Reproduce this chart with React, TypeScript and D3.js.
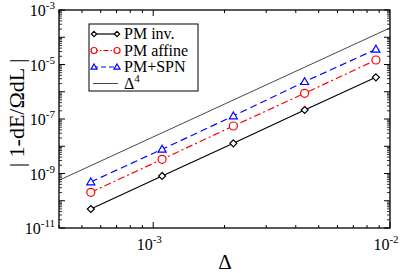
import React from "react";
import * as d3 from "d3";

const deltas = [5.45e-4, 1.09e-3, 2.18e-3, 4.36e-3, 8.72e-3];
const pmInv = [4.98e-11, 8.09e-10, 1.28e-8, 2.14e-7, 3.39e-6];
const pmAffine = [2.04e-10, 3.32e-9, 5.53e-8, 8.77e-7, 1.46e-5];
const pmSpn = [4.88e-10, 7.73e-9, 1.29e-7, 2.34e-6, 3.61e-5];
const refCoef = 2.2e4;
const refX = [4.0e-4, 1.0e-2];
const xTickExps = [-3, -2];
const yTickExps = [-3, -5, -7, -9, -11];
const legendLabels = ["PM inv.", "PM affine", "PM+SPN"];

const W = 405, H = 273;
const L = 59, R = 390, T = 10, B = 228;
const font = "'Liberation Serif', 'DejaVu Serif', serif";

export default function App() {
  const x = d3.scaleLog().domain([4.0e-4, 1e-2]).range([L, R]);
  const y = d3.scaleLog().domain([1e-11, 1e-3]).range([B, T]);
  const line = d3.line<[number, number]>().x(d => x(d[0])).y(d => y(d[1]));

  const xMinor: number[] = [];
  for (let e = -4; e <= -3; e++) for (let m = 1; m <= 9; m++) {
    const v = m * Math.pow(10, e);
    if (v >= 4e-4 - 1e-12 && v <= 1e-2 + 1e-12) xMinor.push(v);
  }
  const yMinor: number[] = [];
  for (let e = -11; e < -3; e++) for (let m = 2; m <= 9; m++) yMinor.push(m * Math.pow(10, e));
  const yMajor: number[] = [];
  for (let e = -11; e <= -3; e++) yMajor.push(Math.pow(10, e));

  const series = [
    { vals: pmInv, color: "#000", dash: "none", marker: "diamond" },
    { vals: pmAffine, color: "#ff0000", dash: "7,3,2,3", marker: "circle" },
    { vals: pmSpn, color: "#0000ff", dash: "7,4", marker: "triangle" },
  ];

  const drawMarker = (m: string, cx: number, cy: number, color: string, key: string, sc = 1) => {
    if (m === "diamond") {
      const s = 3.5 * sc;
      return <path key={key} d={`M${cx},${cy - s}L${cx + s},${cy}L${cx},${cy + s}L${cx - s},${cy}Z`} fill="white" stroke={color} strokeWidth={1.2} />;
    }
    if (m === "circle") {
      return <circle key={key} cx={cx} cy={cy} r={4 * sc} fill="white" stroke={color} strokeWidth={1.2} />;
    }
    const s = 4 * sc;
    return <path key={key} d={`M${cx},${cy - s}L${cx + s},${cy + s * 0.7}L${cx - s},${cy + s * 0.7}Z`} fill="white" stroke={color} strokeWidth={1.2} />;
  };

  const refPts: [number, number][] = refX.map(v => [v, refCoef * Math.pow(v, 4)]);

  const lgX = 89, lgY = 24, lgW = 109, lgH = 67;

  return (
    <svg width={W} height={H} style={{ position: "absolute", left: 0, top: 0, background: "white" }} fontFamily={font}>
      <defs>
        <clipPath id="clip"><rect x={L} y={T} width={R - L} height={B - T} /></clipPath>
      </defs>
      <g clipPath="url(#clip)">
        <path d={line(refPts) || ""} fill="none" stroke="#333" strokeWidth={0.9} />
        {series.map((s, i) => (
          <path key={i} d={line(deltas.map((d, j) => [d, s.vals[j]] as [number, number])) || ""}
            fill="none" stroke={s.color} strokeWidth={1.2} strokeDasharray={s.dash} />
        ))}
        {series.map((s, i) => deltas.map((d, j) => drawMarker(s.marker, x(d), y(s.vals[j]), s.color, `m${i}-${j}`)))}
      </g>
      <rect x={L} y={T} width={R - L} height={B - T} fill="none" stroke="#000" strokeWidth={1.3} />
      {xMinor.map((v, i) => {
        const major = Math.abs(Math.log10(v) - Math.round(Math.log10(v))) < 1e-6;
        const len = major ? 6 : 3;
        return (
          <g key={"xt" + i}>
            <line x1={x(v)} x2={x(v)} y1={B} y2={B - len} stroke="#000" strokeWidth={1} />
            <line x1={x(v)} x2={x(v)} y1={T} y2={T + len} stroke="#000" strokeWidth={1} />
          </g>
        );
      })}
      <line x1={x(1e-2)} x2={x(1e-2)} y1={B} y2={B - 6} stroke="#000" />
      {yMajor.map((v, i) => (
        <g key={"yM" + i}>
          <line x1={L} x2={L + 6} y1={y(v)} y2={y(v)} stroke="#000" strokeWidth={1} />
          <line x1={R} x2={R - 6} y1={y(v)} y2={y(v)} stroke="#000" strokeWidth={1} />
        </g>
      ))}
      {yMinor.map((v, i) => (
        <g key={"ym" + i}>
          <line x1={L} x2={L + 3} y1={y(v)} y2={y(v)} stroke="#000" strokeWidth={0.8} />
          <line x1={R} x2={R - 3} y1={y(v)} y2={y(v)} stroke="#000" strokeWidth={0.8} />
        </g>
      ))}
      {xTickExps.map(e => (
        <text key={"xl" + e} x={x(Math.pow(10, e)) - 4} y={250} textAnchor="middle" fontSize={16}>
          10<tspan dy={-7} fontSize={11}>{e}</tspan>
        </text>
      ))}
      {yTickExps.map(e => (
        <text key={"yl" + e} x={55} y={y(Math.pow(10, e)) + 6} textAnchor="end" fontSize={16}>
          10<tspan dy={-7} fontSize={11}>{e}</tspan>
        </text>
      ))}
      <text x={225} y={269} textAnchor="middle" fontSize={21}>Δ</text>
      <text transform={`translate(24,113) rotate(-90)`} textAnchor="middle" fontSize={22}>| 1-dE/ΩdL |</text>
      <rect x={lgX} y={lgY} width={lgW} height={lgH} fill="white" stroke="#000" strokeWidth={1} />
      {series.map((s, i) => {
        const ly = lgY + 10 + i * 16.5;
        return (
          <g key={"lg" + i}>
            <line x1={93} x2={118} y1={ly} y2={ly} stroke={s.color} strokeWidth={1.2} strokeDasharray={s.dash === "none" ? "none" : (i === 1 ? "5,2,1.5,2" : "5,3")} />
            {drawMarker(s.marker, 94, ly, s.color, "lm1" + i, 0.75)}
            {drawMarker(s.marker, 117, ly, s.color, "lm2" + i, 0.75)}
            <text x={124} y={ly + 5} fontSize={16}>{legendLabels[i]}</text>
          </g>
        );
      })}
      <line x1={93} x2={118} y1={lgY + 10 + 3 * 16.5} y2={lgY + 10 + 3 * 16.5} stroke="#333" strokeWidth={0.9} />
      <text x={124} y={lgY + 10 + 3 * 16.5 + 5} fontSize={16}>Δ<tspan dy={-7} fontSize={11}>4</tspan></text>
    </svg>
  );
}
